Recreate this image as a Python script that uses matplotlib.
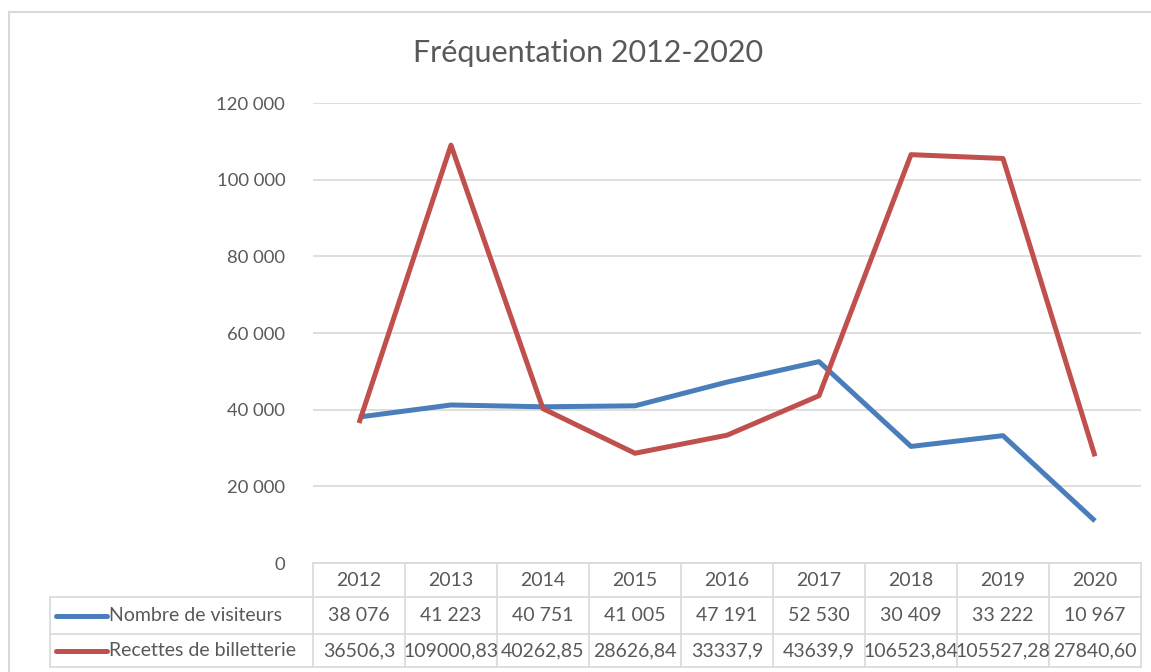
import matplotlib
matplotlib.use("Agg")
import matplotlib.pyplot as plt
from matplotlib.ticker import FuncFormatter
from matplotlib.transforms import blended_transform_factory
from matplotlib.lines import Line2D

plt.rcParams['font.family'] = ['Lato', 'DejaVu Sans']

years = ["2012", "2013", "2014", "2015", "2016", "2017", "2018", "2019", "2020"]
visiteurs = [38076, 41223, 40751, 41005, 47191, 52530, 30409, 33222, 10967]
recettes = [36506.3, 109000.83, 40262.85, 28626.84, 33337.9, 43639.9, 106523.84, 105527.28, 27840.60]
visiteurs_labels = ["38 076", "41 223", "40 751", "41 005", "47 191", "52 530", "30 409", "33 222", "10 967"]
recettes_labels = ["36506,3", "109000,83", "40262,85", "28626,84", "33337,9", "43639,9", "106523,84", "105527,28", "27840,60"]
series_names = ["Nombre de visiteurs", "Recettes de billetterie"]
title = "Fréquentation 2012-2020"

W, H = 1151, 672
fig = plt.figure(figsize=(W / 100, H / 100), dpi=100)
fig.patch.set_facecolor("white")

def fx(px):
    return px / W

def fy(py):
    return 1 - py / H

blue = "#4A7EBB"
red = "#C0504D"
grid = "#D9D9D9"
txt = "#595959"
fs = 14

# outer chart border
fig.add_artist(Line2D([fx(8.5), fx(8.5)], [fy(12), fy(H + 5)], color=grid, lw=1.5, transform=fig.transFigure))
fig.add_artist(Line2D([fx(8.5), fx(W + 5)], [fy(12), fy(12)], color=grid, lw=1.5, transform=fig.transFigure))

left, right, top, bottom = 313, 1141, 103, 563
ax = fig.add_axes([fx(left), fy(bottom), fx(right) - fx(left), fy(top) - fy(bottom)])
x = list(range(len(years)))
ax.plot(x, visiteurs, color=blue, lw=3.6, solid_capstyle="butt", zorder=3)
ax.plot(x, recettes, color=red, lw=3.6, solid_capstyle="butt", zorder=4)
ax.set_xlim(-0.5, len(years) - 0.5)
ax.set_ylim(0, 120000)
ax.set_yticks(range(0, 120001, 20000))
ax.yaxis.set_major_formatter(FuncFormatter(lambda v, p: f"{int(v):,}".replace(",", " ")))
ax.tick_params(axis="y", length=0, pad=20, labelsize=13.3, labelcolor=txt)
ax.set_xticks([])
for s in ax.spines.values():
    s.set_visible(False)
ax.grid(axis="y", color=grid, lw=1.2)
ax.set_axisbelow(True)
ax.patch.set_alpha(0)

fig.text(fx(588), fy(53), title, ha="center", va="center", fontsize=22, color=txt)

# data table
tr = blended_transform_factory(ax.transData, fig.transFigure)
row_y = [563, 597, 634, 667]
tleft = 50
lw_t = 1.2
fig.add_artist(Line2D([fx(left), fx(right)], [fy(row_y[0]), fy(row_y[0])], color=grid, lw=lw_t, transform=fig.transFigure))
for yy in row_y[1:]:
    fig.add_artist(Line2D([fx(tleft), fx(right)], [fy(yy), fy(yy)], color=grid, lw=lw_t, transform=fig.transFigure))
for i in range(len(years) + 1):
    fig.add_artist(Line2D([i - 0.5, i - 0.5], [fy(row_y[0]), fy(row_y[3])], color=grid, lw=lw_t, transform=tr))
fig.add_artist(Line2D([fx(tleft), fx(tleft)], [fy(row_y[1]), fy(row_y[3])], color=grid, lw=lw_t, transform=fig.transFigure))

def cy(r):
    return fy((row_y[r] + row_y[r + 1]) / 2)

for i, yr in enumerate(years):
    fig.text(i, cy(0), yr, transform=tr, ha="center", va="center", fontsize=fs, color=txt)
    fig.text(i, cy(1), visiteurs_labels[i], transform=tr, ha="center", va="center", fontsize=fs, color=txt)
    fig.text(i, cy(2), recettes_labels[i], transform=tr, ha="center", va="center", fontsize=fs, color=txt)

for r, (name, col) in enumerate(zip(series_names, [blue, red]), start=1):
    fig.add_artist(Line2D([fx(56), fx(107)], [cy(r), cy(r)], color=col, lw=3.6, solid_capstyle="round", transform=fig.transFigure))
    fig.text(fx(109), cy(r), name, ha="left", va="center", fontsize=fs, color=txt)

fig.savefig("out.png", dpi=100, facecolor="white")
